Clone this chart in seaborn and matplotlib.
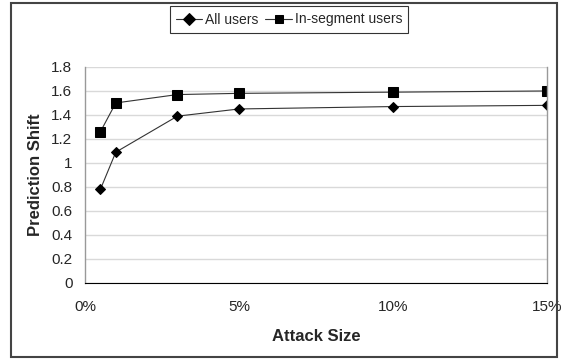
import numpy as np
import pandas as pd
import matplotlib
matplotlib.use("Agg")
import matplotlib.pyplot as plt
import seaborn as sns
from matplotlib.patches import Rectangle
from matplotlib.ticker import FuncFormatter

# attack sizes (%) and prediction shift values
attack_size = [0.5, 1, 3, 5, 10, 15]
all_users = [0.78, 1.09, 1.39, 1.45, 1.47, 1.48]
segment_users = [1.26, 1.50, 1.57, 1.58, 1.59, 1.60]
series_names = ["All users", "In-segment users"]

df = pd.DataFrame({
    "Attack Size": attack_size * 2,
    "Prediction Shift": all_users + segment_users,
    "Series": [series_names[0]] * len(attack_size) + [series_names[1]] * len(attack_size),
})

sns.set_style("white")
plt.rcParams["font.family"] = ["Liberation Sans", "DejaVu Sans"]

fig = plt.figure(figsize=(5.61, 3.6), dpi=100)
ax = fig.add_axes([0.1515, 0.214, 0.8235, 0.6])

sns.lineplot(data=df, x="Attack Size", y="Prediction Shift", hue="Series",
             style="Series", markers={"All users": "D", "In-segment users": "s"},
             dashes=False, palette=["black", "black"], linewidth=0.8,
             markersize=6, markeredgecolor="black", ax=ax, legend=True)
for line in ax.lines:
    line.set_color("#333333")
    line.set_markerfacecolor("black")
    line.set_markeredgecolor("black")
for line, ms in zip(ax.lines[:2], [5, 7]):
    line.set_markersize(ms)

ax.set_xlim(0, 15)
ax.set_ylim(0, 1.8)
ax.set_xticks([0, 5, 10, 15])
ax.xaxis.set_major_formatter(FuncFormatter(lambda v, p: f"{v:.0f}%"))
ax.set_yticks(np.arange(0, 1.81, 0.2))
ax.yaxis.set_major_formatter(FuncFormatter(lambda v, p: f"{v:g}"))
ax.grid(axis="y", color="#d9d9d9", linewidth=1)
ax.set_axisbelow(True)
for s in ["top", "right", "left"]:
    ax.spines[s].set_color("#999999")
    ax.spines[s].set_linewidth(1)
ax.spines["top"].set_visible(False)
ax.spines["bottom"].set_color("black")
ax.tick_params(axis="x", direction="out", length=3, width=1, color="black",
               labelsize=11, pad=9)
ax.tick_params(axis="y", direction="out", length=3, width=1, color="#999999",
               labelsize=11, pad=6)
ax.set_xlabel("Attack Size", fontsize=12, fontweight="bold", labelpad=11)
ax.set_ylabel("Prediction Shift", fontsize=12, fontweight="bold", labelpad=6)

leg = ax.legend(title=None, loc="center", ncol=2, frameon=True,
                fancybox=False, fontsize=10, handlelength=1.9,
                handletextpad=0.2, columnspacing=0.5, borderpad=0.45,
                edgecolor="black")
leg.set_bbox_to_anchor((289 / 561, 1 - 19.5 / 360), transform=fig.transFigure)
leg.get_frame().set_linewidth(0.8)

fig.patches.append(Rectangle((11 / 561, 3 / 360), 546 / 561, 354 / 360,
                             transform=fig.transFigure, fill=False,
                             edgecolor="#444444", linewidth=1.5))

fig.savefig("out.png", dpi=100)
